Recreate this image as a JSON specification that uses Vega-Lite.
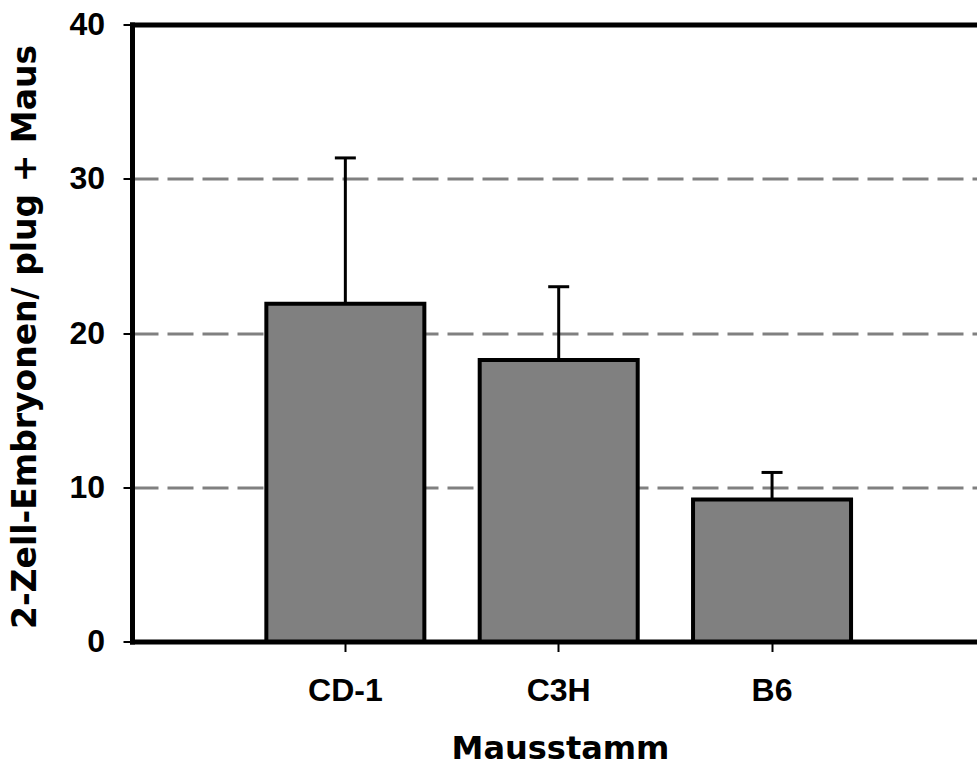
{
  "$schema": "https://vega.github.io/schema/vega-lite/v6.json",
  "autosize": "none",
  "width": 845,
  "height": 617,
  "padding": {"left": 132, "top": 24.5, "right": 0, "bottom": 125.5},
  "background": "white",
  "config": {
    "view": {"stroke": null},
    "axis": {
      "labelFont": "Liberation Sans",
      "labelFontWeight": "bold",
      "labelFontSize": 32,
      "labelColor": "black",
      "titleFont": "DejaVu Sans",
      "titleFontWeight": "bold",
      "titleColor": "black",
      "domainColor": "black",
      "domainWidth": 5,
      "domainCap": "square",
      "tickColor": "black",
      "tickWidth": 2
    }
  },
  "data": {
    "values": [
      {"strain": "CD-1", "mean": 21.9, "upper": 31.35},
      {"strain": "C3H", "mean": 18.25, "upper": 23.0},
      {"strain": "B6", "mean": 9.2, "upper": 10.96}
    ]
  },
  "resolve": {"axis": {"x": "independent"}},
  "layer": [
    {
      "mark": {"type": "bar", "fill": "#808080", "stroke": "black", "strokeWidth": 4, "strokeJoin": "miter"},
      "encoding": {
        "x": {
          "field": "strain", "type": "nominal", "sort": null,
          "scale": {"range": [0, 853.4], "paddingInner": 0.2594, "paddingOuter": 0.6297},
          "axis": {
            "orient": "bottom",
            "title": "Mausstamm",
            "titleFontSize": 32,
            "titleBaseline": "alphabetic",
            "titleX": 428,
            "titleY": 117,
            "titleAlign": "center",
            "labelAngle": 0,
            "labelBaseline": "alphabetic",
            "labelPadding": 49.2,
            "tickSize": 10,
            "grid": false
          }
        },
        "y": {
          "field": "mean", "type": "quantitative",
          "scale": {"domain": [0, 40], "nice": false},
          "axis": {
            "title": "2-Zell-Embryonen/ plug + Maus",
            "titleFontSize": 33,
            "titleAngle": -90,
            "titleBaseline": "alphabetic",
            "titleAlign": "center",
            "titleX": -96.7,
            "titleY": 312,
            "values": [0, 10, 20, 30, 40],
            "tickSize": 9,
            "labelPadding": 18.5,
            "grid": true,
            "gridColor": "#808080",
            "gridWidth": 3,
            "gridDash": [26, 9],
            "gridOpacity": 1
          }
        }
      }
    },
    {
      "mark": {"type": "rule", "color": "black", "strokeWidth": 3},
      "encoding": {
        "x": {
          "field": "strain", "type": "nominal", "sort": null,
          "axis": {"orient": "top", "labels": false, "ticks": false, "title": null, "grid": false, "domainWidth": 5}
        },
        "y": {"field": "mean", "type": "quantitative", "title": "2-Zell-Embryonen/ plug + Maus"},
        "y2": {"field": "upper"}
      }
    },
    {
      "mark": {"type": "tick", "color": "black", "thickness": 3, "size": 21, "opacity": 1},
      "encoding": {
        "x": {"field": "strain", "type": "nominal", "sort": null, "axis": null},
        "y": {"field": "upper", "type": "quantitative", "title": "2-Zell-Embryonen/ plug + Maus"}
      }
    }
  ]
}
